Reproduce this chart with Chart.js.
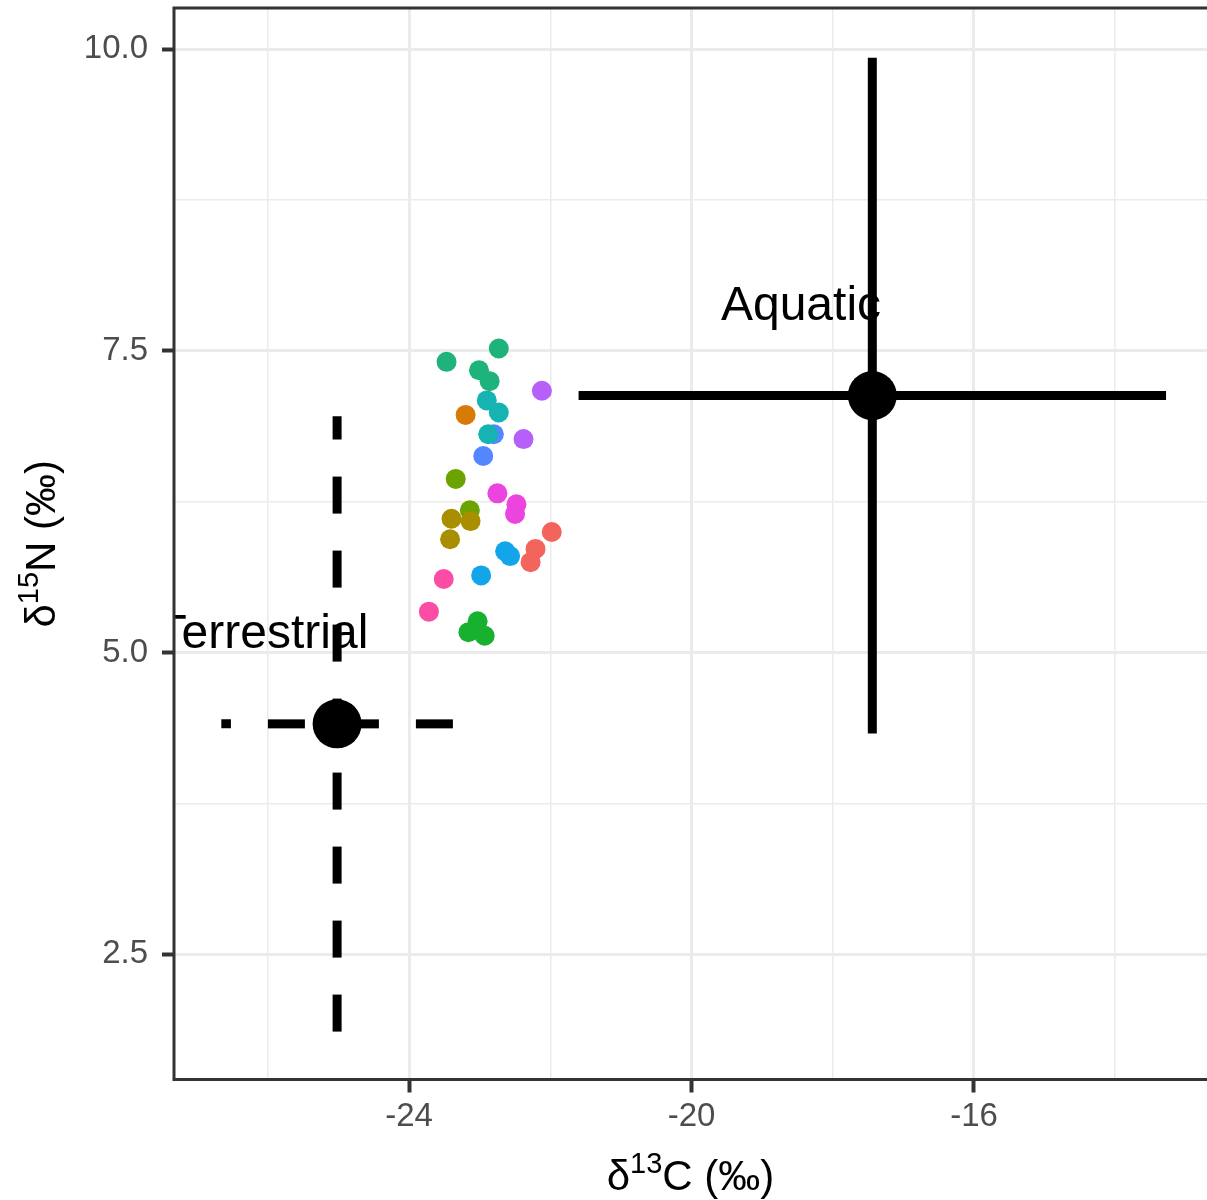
<!DOCTYPE html>
<html>
<head>
<meta charset="utf-8">
<script src="https://cdn.jsdelivr.net/npm/chart.js@4.4.1/dist/chart.umd.min.js"></script>
<style>
html,body{margin:0;padding:0;background:#ffffff;}
#wrap{width:1207px;height:1200px;position:relative;}
</style>
</head>
<body>
<div id="wrap"><canvas id="c"></canvas></div>
<script>
// ---- data ----
const groupColors = ['#F2645C','#D87A06','#A98E00','#6BA300','#18B12F','#1DB37B','#16B3B3','#12A5EA','#5487FF','#B65FF9','#EC44DF','#FB4DA5'];
const pointGroup = [0,0,0, 1, 2,2,2, 3,3, 4,4,4, 5,5,5,5, 6,6,6, 7,7,7, 8,8, 9,9, 10,10,10, 11,11];
const pointX = [-21.98,-22.21,-22.28, -23.20, -23.40,-23.13,-23.42, -23.34,-23.14, -23.03,-23.16,-22.93, -22.73,-23.47,-23.01,-22.86, -22.90,-22.73,-22.88, -22.64,-22.57,-22.98, -22.80,-22.95, -22.12,-22.38, -22.75,-22.48,-22.50, -23.51,-23.72];
const pointY = [6.00,5.86,5.75, 6.97, 6.11,6.09,5.94, 6.44,6.18, 5.26,5.17,5.14, 7.52,7.41,7.34,7.25, 7.09,6.99,6.81, 5.84,5.80,5.64, 6.81,6.63, 7.17,6.77, 6.32,6.23,6.15, 5.61,5.34];

const sourceNames = ['Terrestrial','Aquatic'];
const sourceMeanX = [-25.02, -17.44];
const sourceMeanY = [4.41, 7.13];
const sourceSdX = [1.64, 4.16];
const sourceSdY = [2.55, 2.80];
const sourceLabelX = [-26.07, -18.45];
const sourceLabelY = [5.15, 7.87];

const xMajorTicks = [-24, -20, -16];
const xMinorTicks = [-26, -22, -18, -14];
const yMajorTicks = [2.5, 5, 7.5, 10];
const yMinorTicks = [3.75, 6.25, 8.75];
// axis titles: [prefix, superscript, rest]
const xTitleParts = ['δ', '13', 'C (‰)'];
const yTitleParts = ['δ', '15', 'N (‰)'];

// ---- datasets ----
const datasets = [];
groupColors.forEach((col, g) => {
  const pts = [];
  pointGroup.forEach((pg, i) => { if (pg === g) pts.push({x: pointX[i], y: pointY[i]}); });
  datasets.push({data: pts, backgroundColor: col, borderWidth: 0, pointRadius: 10, pointHoverRadius: 10, order: 10});
});
sourceNames.forEach((name, i) => {
  const dash = i === 0 ? [37, 37] : [];
  datasets.push({data: [{x: sourceMeanX[i] + sourceSdX[i], y: sourceMeanY[i]}, {x: sourceMeanX[i] - sourceSdX[i], y: sourceMeanY[i]}],
    showLine: true, pointRadius: 0, borderColor: '#000000', borderWidth: 9, borderDash: dash, borderCapStyle: 'butt', order: 5});
  datasets.push({data: [{x: sourceMeanX[i], y: sourceMeanY[i] - sourceSdY[i]}, {x: sourceMeanX[i], y: sourceMeanY[i] + sourceSdY[i]}],
    showLine: true, pointRadius: 0, borderColor: '#000000', borderWidth: 9, borderDash: dash, borderCapStyle: 'butt', order: 5});
  datasets.push({data: [{x: sourceMeanX[i], y: sourceMeanY[i]}], backgroundColor: '#000000', borderWidth: 0, pointRadius: 24.5, pointHoverRadius: 24.5, order: 1});
});

const FONT = 'Liberation Sans';
const xTicksAll = xMinorTicks.concat(xMajorTicks).sort((a,b)=>a-b);
const yTicksAll = yMinorTicks.concat(yMajorTicks).sort((a,b)=>a-b);
const isMajorX = v => xMajorTicks.some(t => Math.abs(t - v) < 1e-9);
const isMajorY = v => yMajorTicks.some(t => Math.abs(t - v) < 1e-9);

function drawSupTitle(ctx, parts, size, supSize, raise) {
  const big = size + 'px "' + FONT + '"', small = supSize + 'px "' + FONT + '"';
  ctx.font = big; const w0 = ctx.measureText(parts[0]).width; const w2 = ctx.measureText(parts[2]).width;
  ctx.font = small; const w1 = ctx.measureText(parts[1]).width;
  let x = -(w0 + w1 + w2) / 2;
  ctx.textAlign = 'left'; ctx.textBaseline = 'alphabetic'; ctx.fillStyle = '#000000';
  ctx.font = big; ctx.fillText(parts[0], x, 0); x += w0;
  ctx.font = small; ctx.fillText(parts[1], x, -raise); x += w1;
  ctx.font = big; ctx.fillText(parts[2], x, 0);
}

const panelPlugin = {
  id: 'panel',
  beforeDatasetsDraw(chart) {
    const {ctx, chartArea: a, scales: {x, y}} = chart;
    ctx.save();
    ctx.beginPath();
    ctx.rect(a.left, a.top, a.right - a.left, a.bottom - a.top);
    ctx.clip();
    ctx.font = '48px "' + FONT + '"';
    ctx.fillStyle = '#000000';
    ctx.textAlign = 'center';
    ctx.textBaseline = 'middle';
    sourceNames.forEach((n, i) => {
      ctx.fillText(n, x.getPixelForValue(sourceLabelX[i]), y.getPixelForValue(sourceLabelY[i]));
    });
    ctx.restore();
  },
  afterDatasetsDraw(chart) {
    const {ctx, chartArea: a} = chart;
    ctx.save();
    ctx.strokeStyle = '#333333';
    ctx.lineWidth = 3;
    ctx.strokeRect(a.left, a.top, a.right - a.left + 4, a.bottom - a.top);
    ctx.restore();
  },
  afterDraw(chart) {
    const {ctx, chartArea: a} = chart;
    ctx.save();
    ctx.translate((a.left + a.right) / 2, 1190);
    drawSupTitle(ctx, xTitleParts, 42, 29, 17);
    ctx.restore();
    ctx.save();
    ctx.translate(55, (a.top + a.bottom) / 2);
    ctx.rotate(-Math.PI / 2);
    drawSupTitle(ctx, yTitleParts, 42, 29, 17);
    ctx.restore();
  }
};

new Chart(document.getElementById('c'), {
  type: 'scatter',
  data: {datasets},
  plugins: [panelPlugin],
  options: {
    responsive: true,
    maintainAspectRatio: false,
    devicePixelRatio: 1,
    animation: false,
    events: [],
    layout: {autoPadding: false, padding: {top: 8, right: 0, left: 0, bottom: 0}},
    plugins: {legend: {display: false}, tooltip: {enabled: false}},
    scales: {
      x: {
        type: 'linear', min: -27.33, max: -12.70,
        afterBuildTicks: s => { s.ticks = xTicksAll.map(v => ({value: v})); },
        afterFit: s => { s.height = 120.5; s.paddingLeft = 0; s.paddingRight = 0; },
        border: {display: false},
        grid: {
          color: '#EBEBEB',
          lineWidth: c => isMajorX(c.tick.value) ? 3 : 1.5,
          drawTicks: true, tickLength: 13, tickWidth: 4,
          tickColor: c => isMajorX(c.tick.value) ? '#333333' : 'rgba(0,0,0,0)'
        },
        ticks: {
          autoSkip: false, maxRotation: 0, minRotation: 0, padding: 5,
          color: '#4D4D4D', font: {family: FONT, size: 33},
          callback: v => isMajorX(v) ? String(v) : ''
        },
        title: {display: false}
      },
      y: {
        type: 'linear', min: 1.463, max: 10.342,
        afterBuildTicks: s => { s.ticks = yTicksAll.map(v => ({value: v})); },
        afterFit: s => { s.width = 174; s.paddingTop = 0; s.paddingBottom = 0; },
        border: {display: false},
        grid: {
          color: '#EBEBEB',
          lineWidth: c => isMajorY(c.tick.value) ? 3 : 1.5,
          drawTicks: true, tickLength: 12, tickWidth: 4,
          tickColor: c => isMajorY(c.tick.value) ? '#333333' : 'rgba(0,0,0,0)'
        },
        ticks: {
          autoSkip: false, padding: 14,
          color: '#4D4D4D', font: {family: FONT, size: 33},
          callback: v => isMajorY(v) ? v.toFixed(1) : ''
        },
        title: {display: false}
      }
    }
  }
});
</script>
</body>
</html>
